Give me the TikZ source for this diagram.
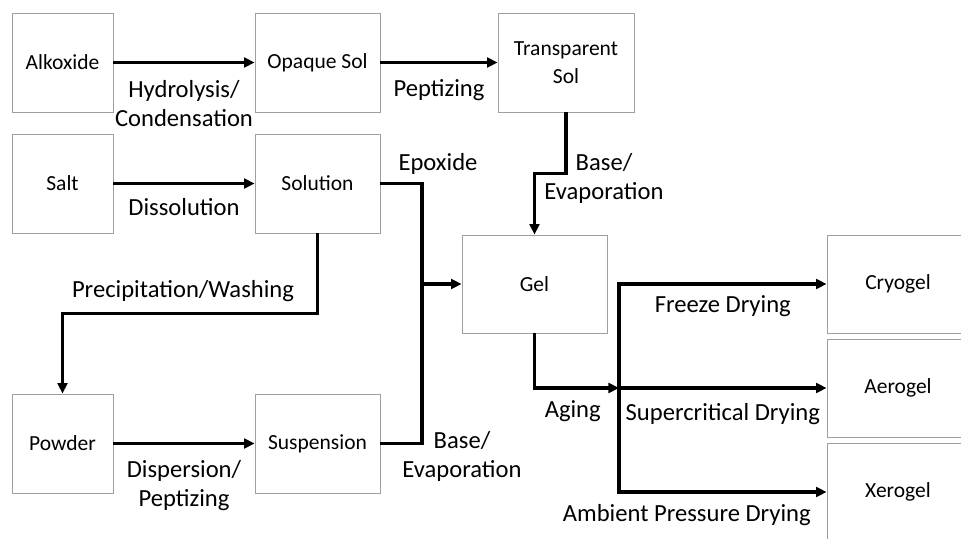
\documentclass[tikz,border=0pt]{standalone}
\usepackage{fontspec}
\setmainfont{Carlito}
\usetikzlibrary{arrows.meta}

\begin{document}
\begin{tikzpicture}[>={Triangle[length=7.5pt,width=7pt]},
    box/.style={draw=gray!75, line width=0.6pt, minimum width=2.525cm, minimum height=2.475cm, align=center, inner sep=1pt, font=\fontsize{15.3}{19.9}\selectfont},
    flow/.style={->, line width=2.2pt},
    link/.style={line width=2.2pt},
    lbl/.style={align=center, inner sep=0pt, font=\fontsize{17.5}{20.6}\selectfont}]
                \useasboundingbox (0,0) rectangle (24.025,-13.45);

                \node[box] (alk) at (1.5625,-1.5625) {Alkoxide};
                \node[box, minimum width=3.125cm] (opq) at (7.9375,-1.5625) {Opaque Sol};
                \node[box, minimum width=3.4cm] (trs) at (14.15,-1.5625) {Transparent\\Sol};
                \node[box] (slt) at (1.5625,-4.5875) {Salt};
                \node[box, minimum width=3.125cm] (sol) at (7.9375,-4.5875) {Solution};
                \node[box, minimum width=3.625cm, minimum height=2.45cm] (gel) at (13.3625,-7.1) {Gel};
                \node[box] (pow) at (1.5625,-11.0875) {Powder};
                \node[box, minimum width=3.125cm] (sus) at (7.9375,-11.0875) {Suspension};
                \node[box, minimum width=3.55cm, minimum height=2.45cm] (cry) at (22.45,-7.1) {Cryogel};
                \node[box, minimum width=3.55cm, minimum height=2.45cm] (aer) at (22.45,-9.7) {Aerogel};
                \node[box, minimum width=3.55cm, minimum height=2.45cm] (xer) at (22.45,-12.3) {Xerogel};

                \coordinate (bus) at (10.55,-7.1);
                \coordinate (split) at (15.475,-9.7);

                \draw[flow] (alk) -- (opq) node[lbl, midway, yshift=-1.03cm] {Hydrolysis/\\Condensation};
                \draw[flow] (opq) -- (trs) node[lbl, midway, yshift=-0.7cm] {Peptizing};
                \draw[flow] (trs.south) -- ++(0,-1.525) node[lbl, xshift=0.95cm, yshift=-0.125cm] {Base/\\Evaporation} -| (gel.north);

                \draw[flow] (slt) -- (sol) node[lbl, midway, yshift=-0.6cm] {Dissolution};
                \draw[link] (sol.east) -| node[lbl, xshift=0.4cm, yshift=0.49cm] {Epoxide} (bus) |- node[lbl, xshift=1cm, yshift=-0.325cm] {Base/\\Evaporation} (sus.east);
                \draw[flow] (bus) -- (gel.west);
                \draw[flow] (sol.south) -- ++(0,-2) -| node[lbl, pos=0.25, xshift=-0.175cm, yshift=0.55cm] {Precipitation/Washing} (pow.north);

                \draw[flow] (pow) -- (sus) node[lbl, midway, yshift=-1.04cm] {Dispersion/\\Peptizing};

                \draw[flow] (gel.south) |- node[lbl, pos=0.75, xshift=-0.1cm, yshift=-0.575cm] {Aging} (split);
                \draw[flow] (split) |- node[lbl, pos=0.75, yshift=-0.55cm] {Freeze Drying} (cry.west);
                \draw[flow] (split) -- node[lbl, midway, yshift=-0.65cm] {Supercritical Drying} (aer.west);
                \draw[flow] (split) |- node[lbl, pos=0.75, xshift=-0.9cm, yshift=-0.57cm] {Ambient Pressure Drying} (xer.west);
            \end{tikzpicture}
\end{document}
